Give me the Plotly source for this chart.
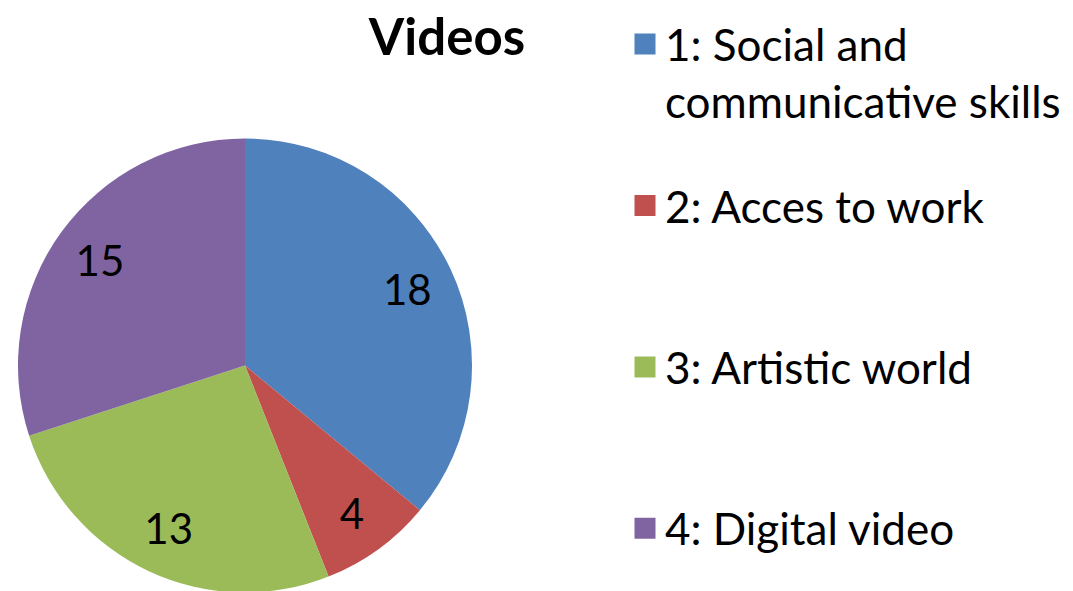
import plotly.graph_objects as go

categories = ["1: Social and<br>communicative skills", "2: Acces to work", "3: Artistic world", "4: Digital video"]
values = [18, 4, 13, 15]
colors = ["#4F81BD", "#C0504D", "#9BBB59", "#8064A2"]
title_text = "Videos"

FONT = "Lato"
OFF = 8  # page body margin of the html page
W, H = 1073, 591

def px_x(v):
    return (v - OFF) / W

def px_y(v):
    return 1 - (v - OFF) / H

pie_domain = dict(x=[px_x(18), px_x(472)], y=[px_y(591 + 3), px_y(137)])

fig = go.Figure()
# solid pie
fig.add_trace(go.Pie(
    labels=categories, values=values, sort=False, direction="clockwise", rotation=0,
    marker=dict(colors=colors, line=dict(width=0)),
    textinfo="none", showlegend=False, hoverinfo="label+value",
    domain=pie_domain,
))
# transparent ring carrying the value labels further out
fig.add_trace(go.Pie(
    labels=categories, values=values, sort=False, direction="clockwise", rotation=0,
    hole=0.58,
    marker=dict(colors=["rgba(0,0,0,0)"] * len(values), line=dict(width=0)),
    textinfo="value", textposition="inside", insidetextorientation="horizontal",
    textfont=dict(size=42, color="black", family=FONT),
    showlegend=False, hoverinfo="skip",
    domain=pie_domain,
))
max_lines = max(c.count("<br>") + 1 for c in categories)
for i, (lab, c) in enumerate(zip(categories, colors)):
    n_pad = 0 if i == len(categories) - 1 else max_lines - (lab.count("<br>") + 1)
    fig.add_trace(go.Scatter(
        x=[None], y=[None], mode="markers", name=lab + "<br> " * n_pad, legendgroup=str(i),
        marker=dict(symbol="square", size=17, color=c, line=dict(color=c, width=5)),
    ))

fig.update_layout(
    width=W, height=H,
    margin=dict(l=0, r=0, t=0, b=0),
    paper_bgcolor="white", plot_bgcolor="white",
    xaxis=dict(visible=False), yaxis=dict(visible=False),
    title=dict(text="<b>" + title_text + "</b>", x=px_x(447), xanchor="center",
               y=px_y(37), yanchor="middle", font=dict(size=51, family=FONT, color="black")),
    legend=dict(x=px_x(625), xanchor="left", y=px_y(9), yanchor="top",
                font=dict(size=44, family=FONT, color="black"), valign="top",
                tracegroupgap=44, bgcolor="rgba(0,0,0,0)"),
    font=dict(family=FONT),
)
fig.write_html("out.html")
